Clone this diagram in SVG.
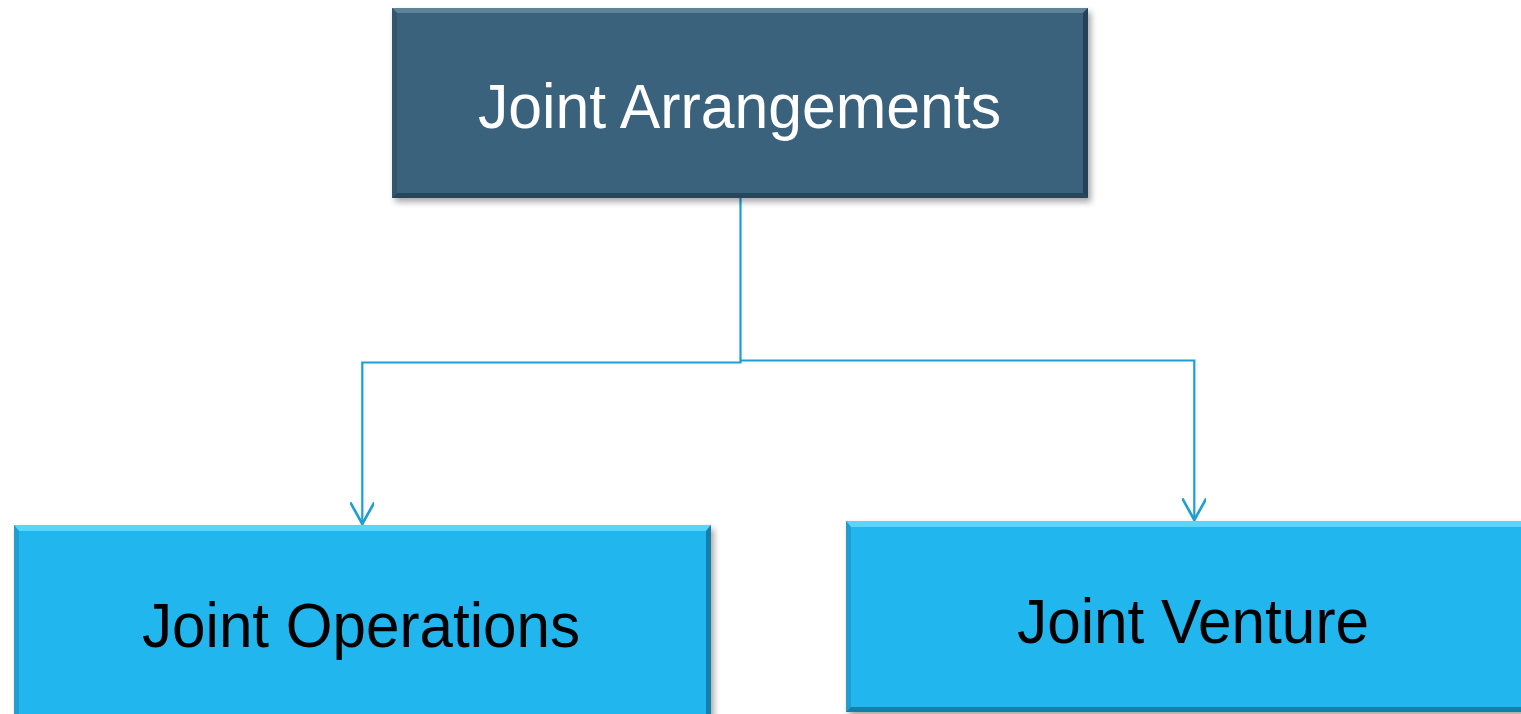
<svg xmlns="http://www.w3.org/2000/svg" width="1521" height="714" viewBox="0 0 1521 714">
  <defs>
    <filter id="shadow" x="-5%" y="-10%" width="115%" height="125%">
      <feDropShadow dx="3" dy="4" stdDeviation="3" flood-color="#000" flood-opacity="0.35"/>
    </filter>
    <marker id="arrow" markerWidth="24" markerHeight="24" refX="18" refY="10" viewBox="0 0 20 20" markerUnits="userSpaceOnUse" orient="auto">
      <path d="M0,0 L18,10 L0,20" fill="none" stroke="#1E9ED2" stroke-width="2.2"/>
    </marker>
    <style>
      .conn { fill: none; stroke: #1E9ED2; stroke-width: 2.2; }
      .label { font-family: "Liberation Sans", Arial, sans-serif; font-size: 63px; text-anchor: start; }
      .dark { fill: #3B627B; }
      .blue { fill: #22B6EF; }
    </style>
  </defs>

  <rect width="1521" height="714" fill="#ffffff"/>

  <!-- connectors -->
  <g id="connectors">
    <path class="conn" d="M740.5,198 V362.5 H362.3 V524" marker-end="url(#arrow)"/>
    <path class="conn" d="M740.5,360.5 H1194.3 V520" marker-end="url(#arrow)"/>
  </g>

  <!-- top node -->
  <g id="node-joint-arrangements">
    <rect class="dark" x="392" y="8" width="696" height="190" filter="url(#shadow)"/>
    <polygon points="392,8 1088,8 1083,13 397,13" fill="#5F8499"/>
    <polygon points="392,8 397,13 397,193 392,198" fill="#33566C"/>
    <polygon points="1088,8 1088,198 1083,193 1083,13" fill="#244257"/>
    <polygon points="392,198 1088,198 1083,193 397,193" fill="#27465B"/>
    <text class="label" x="478" y="128" fill="#ffffff" textLength="523" lengthAdjust="spacingAndGlyphs">Joint Arrangements</text>
  </g>

  <!-- left node -->
  <g id="node-joint-operations">
    <rect class="blue" x="14" y="525" width="697" height="195" filter="url(#shadow)"/>
    <polygon points="14,525 711,525 706,531 19,531" fill="#5AD5FA"/>
    <polygon points="14,525 19,531 19,720 14,720" fill="#1E9FD2"/>
    <polygon points="711,525 711,720 706,720 706,531" fill="#157FAA"/>
    <text class="label" x="142" y="647" fill="#000000" textLength="438" lengthAdjust="spacingAndGlyphs">Joint Operations</text>
  </g>

  <!-- right node -->
  <g id="node-joint-venture">
    <rect class="blue" x="846" y="521" width="690" height="191" filter="url(#shadow)"/>
    <polygon points="846,521 1536,521 1531,527 851,527" fill="#5AD5FA"/>
    <polygon points="846,521 851,527 851,707 846,712" fill="#1E9FD2"/>
    <polygon points="846,712 1536,712 1531,707 851,707" fill="#167EA8"/>
    <text class="label" x="1017" y="643" fill="#000000" textLength="352" lengthAdjust="spacingAndGlyphs">Joint Venture</text>
  </g>
</svg>
